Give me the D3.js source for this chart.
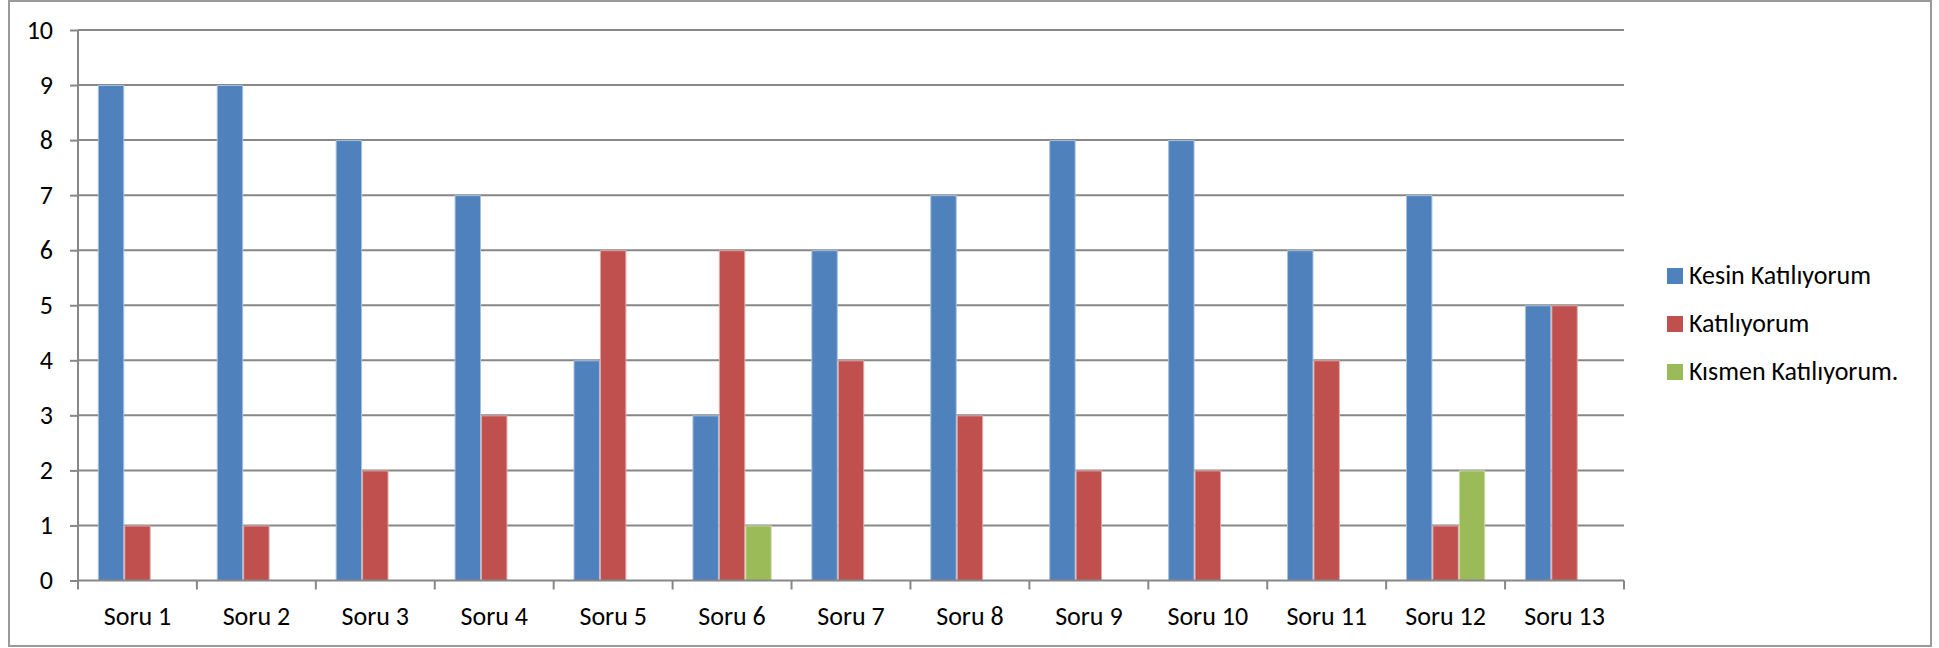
<!DOCTYPE html>
<html><head><meta charset="utf-8">
<script src="https://cdn.jsdelivr.net/npm/d3@7"></script>
<style>
html,body{margin:0;padding:0;background:#fff;}
svg{display:block;}
text{font-family:Carlito, Lato, "Open Sans", sans-serif;fill:#000;}
</style></head>
<body><svg id="c" width="1939" height="648"></svg>
<script>
const categories = ["Soru 1","Soru 2","Soru 3","Soru 4","Soru 5","Soru 6","Soru 7","Soru 8","Soru 9","Soru 10","Soru 11","Soru 12","Soru 13"];
const seriesNames = ["Kesin Katılıyorum","Katılıyorum","Kısmen Katılıyorum."];
const kesin = [9,9,8,7,4,3,6,7,8,8,6,7,5];
const katiliyorum = [1,1,2,3,6,6,4,3,2,2,4,1,5];
const kismen = [0,0,0,0,0,1,0,0,0,0,0,2,0];
const yTicks = [0,1,2,3,4,5,6,7,8,9,10];
const colors = ["#4F81BD","#C0504D","#9BBB59"];
const edges = ["#a7c0de","#dea9a7","#cddcae"];

const series = [kesin, katiliyorum, kismen];
const svg = d3.select("#c");

// fit font size so that Calibri-like metrics are approximated
const probe = svg.append("text").attr("font-size",100).text("Kesin Katılıyorum");
const w100 = probe.node().getComputedTextLength();
probe.remove();
const fs = Math.min(26, 100*186/w100);

svg.append("rect").attr("x",9).attr("y",1).attr("width",1922).attr("height",645)
  .attr("fill","#fff").attr("stroke","#9a9a9a").attr("stroke-width",2);

const x = d3.scaleBand().domain(categories).range([78,1624]).paddingInner(0).paddingOuter(0);
const y = d3.scaleLinear().domain([0,10]).range([580.5,30]);
const bw = x.bandwidth()/4.5;
const xs = d3.scaleBand().domain(d3.range(3)).range([0.75*bw, 3.75*bw]);

// gridlines
svg.append("g").selectAll("line").data(yTicks.filter(d=>d>0)).join("line")
  .attr("x1",78).attr("x2",1624).attr("y1",d=>y(d)).attr("y2",d=>y(d))
  .attr("stroke","#878787").attr("stroke-width",2);

// bars
const groups = svg.append("g").selectAll("g").data(series).join("g");
groups.each(function(vals, si){
  d3.select(this).selectAll("rect").data(vals.map((v,i)=>({v,c:categories[i]})).filter(d=>d.v>0)).join("rect")
    .attr("x",d=>x(d.c)+xs(si)+0.5)
    .attr("width",xs.bandwidth()-1)
    .attr("y",d=>y(d.v)+0.5)
    .attr("height",d=>y(0)-y(d.v)-0.5)
    .attr("fill",colors[si])
    .attr("stroke",edges[si]).attr("stroke-width",1);
});

// y axis
const yAxis = d3.axisLeft(y).tickValues(yTicks).tickSize(8).tickPadding(17).tickFormat(d3.format("d"));
const gy = svg.append("g").attr("transform","translate(78,0)").call(yAxis);
gy.select(".domain").attr("stroke","#878787").attr("stroke-width",2).attr("d","M0,30V581.5");
gy.selectAll(".tick line").attr("stroke","#878787").attr("stroke-width",2);
gy.selectAll(".tick text").attr("font-size",fs).attr("font-family",null).attr("fill","#000");

// x axis
const xAxis = d3.axisBottom(x).tickSize(0).tickPadding(0);
const gx = svg.append("g").attr("transform","translate(0,580.5)").call(xAxis);
gx.select(".domain").attr("stroke","#878787").attr("stroke-width",2).attr("d","M78,0H1624");
gx.selectAll(".tick text").attr("font-size",fs).attr("font-family",null).attr("fill","#000")
  .attr("dy",null).attr("y",44);
const bounds = categories.map(c=>x(c)).concat([1624]);
gx.append("g").selectAll("line").data(bounds).join("line")
  .attr("x1",d=>d).attr("x2",d=>d).attr("y1",0).attr("y2",9)
  .attr("stroke","#878787").attr("stroke-width",2);

// legend
const lg = svg.append("g").selectAll("g").data(seriesNames).join("g")
  .attr("transform",(d,i)=>`translate(1667,${268+i*48})`);
lg.append("rect").attr("width",16).attr("height",16).attr("fill",(d,i)=>colors[i]);
lg.append("text").attr("x",22).attr("y",16).attr("font-size",fs).text(d=>d);
</script></body></html>
